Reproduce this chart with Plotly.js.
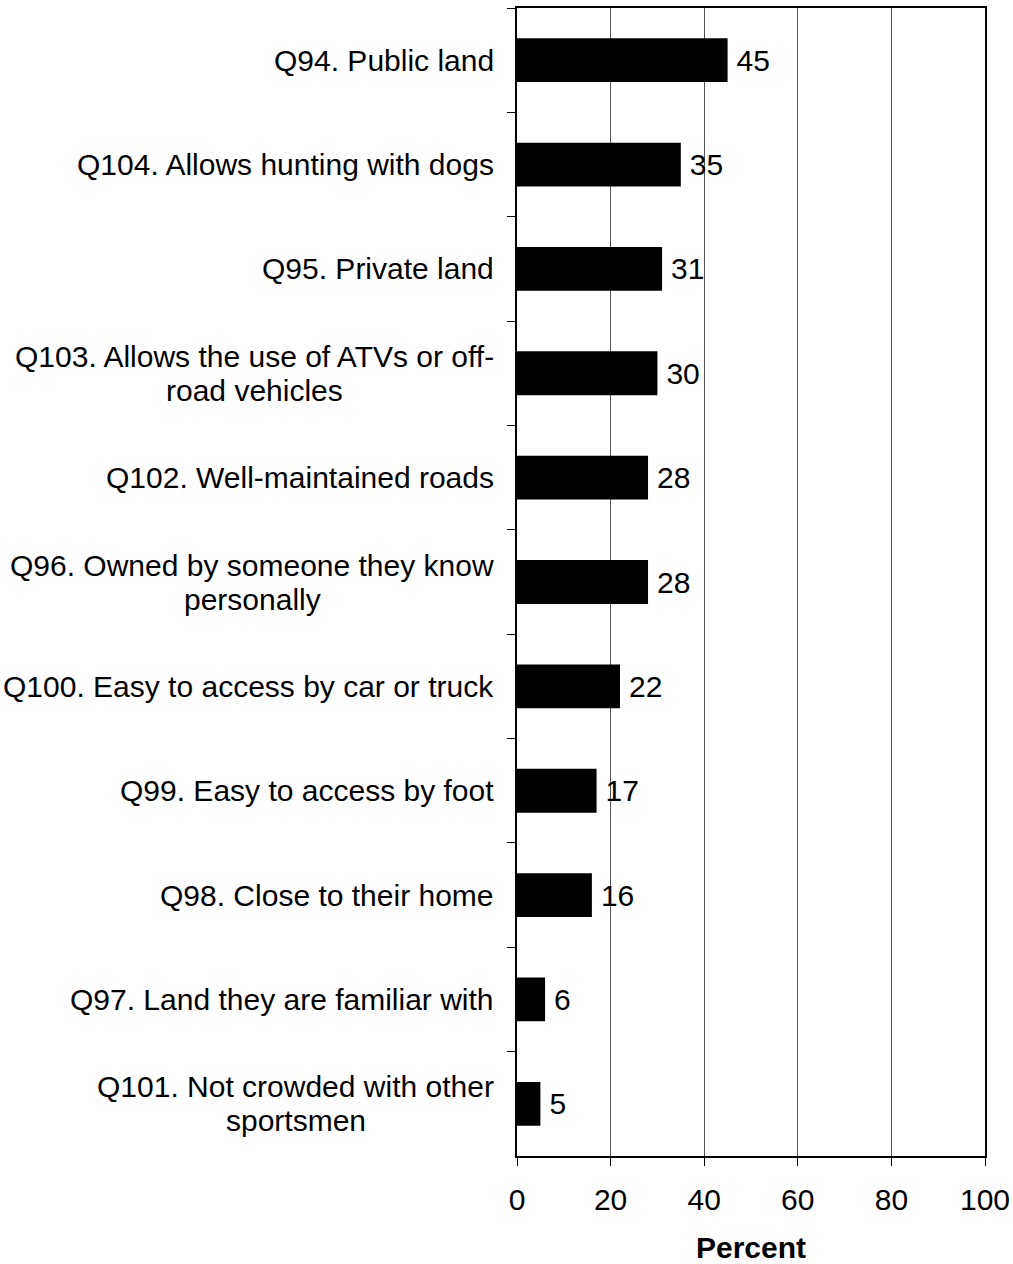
<!DOCTYPE html>
<html>
<head>
<meta charset="utf-8">
<script src="https://cdn.plot.ly/plotly-3.0.1.min.js"></script>
<style>html,body{margin:0;padding:0;background:#fff;}#chart{width:1013px;height:1264px;}</style>
</head>
<body>
<div id="chart"></div>
<script>
const categories = [
  "Q94. Public land",
  "Q104. Allows hunting with dogs",
  "Q95. Private land",
  "Q103. Allows the use of ATVs or off-<br>road vehicles",
  "Q102. Well-maintained roads",
  "Q96. Owned by someone they know<br>personally",
  "Q100. Easy to access by car or truck",
  "Q99. Easy to access by foot",
  "Q98. Close to their home",
  "Q97. Land they are familiar with",
  "Q101. Not crowded with other<br>sportsmen"
];
const values = [45, 35, 31, 30, 28, 28, 22, 17, 16, 6, 5];
const xTicks = [0, 20, 40, 60, 80, 100];
const xTitle = "Percent";

const FONT = "Liberation Sans, Arial, sans-serif";
const FS = 30;
const LINE_H = 34;

const trace = {
  type: "bar",
  orientation: "h",
  y: categories,
  x: values,
  marker: {color: "#000000", line: {width: 0}},
  text: values.map(v => String(v)),
  texttemplate: "\u2009%{text}",
  textposition: "outside",
  textfont: {family: FONT, size: FS, color: "#000"},
  cliponaxis: false,
  hoverinfo: "skip"
};

function measure(text) {
  const s = document.createElementNS("http://www.w3.org/2000/svg", "svg");
  s.style.position = "absolute"; s.style.visibility = "hidden";
  const t = document.createElementNS("http://www.w3.org/2000/svg", "text");
  t.setAttribute("font-family", FONT); t.setAttribute("font-size", FS);
  t.textContent = text; s.appendChild(t); document.body.appendChild(s);
  const w = t.getComputedTextLength(); document.body.removeChild(s); return w;
}

// Multi-line labels: each line centred within the block, block right-aligned to the axis.
const annotations = [];
categories.forEach(c => {
  const lines = c.split("<br>");
  const n = lines.length;
  const w = Math.max(...lines.map(measure));
  lines.forEach((ln, i) => {
    annotations.push({
      xref: "paper", yref: "y", x: 0, y: c,
      xanchor: "center", yanchor: "middle",
      xshift: -23 - w / 2,
      yshift: ((n - 1) / 2 - i) * LINE_H,
      text: ln, showarrow: false, align: "center",
      font: {family: FONT, size: FS, color: "#000"}
    });
  });
});

const layout = {
  width: 1013, height: 1264,
  margin: {l: 517, r: 28, t: 8, b: 108},
  paper_bgcolor: "#fff", plot_bgcolor: "#fff",
  showlegend: false,
  bargap: 0.58,
  font: {family: FONT, size: FS, color: "#000"},
  xaxis: {
    range: [0, 100], tickvals: xTicks, ticktext: xTicks.map(String),
    showgrid: true, gridcolor: "#555", gridwidth: 1,
    zeroline: false, showline: true, linecolor: "#000", linewidth: 2,
    mirror: true, ticks: "outside", ticklen: 8, tickcolor: "#000", tickwidth: 1,
    ticklabelstandoff: 8,
    tickfont: {family: FONT, size: FS, color: "#000"},
    title: {text: "<b>" + xTitle + "</b>", font: {family: FONT, size: FS, color: "#000"}, standoff: 23},
    fixedrange: true
  },
  yaxis: {
    type: "category", autorange: "reversed",
    showticklabels: false, showgrid: false, zeroline: false,
    showline: true, linecolor: "#000", linewidth: 2, mirror: true,
    ticks: "outside", tickson: "boundaries", ticklen: 8, tickcolor: "#000", tickwidth: 1,
    fixedrange: true
  },
  annotations: annotations
};

Plotly.newPlot("chart", [trace], layout, {displayModeBar: false, staticPlot: true});
</script>
</body>
</html>
